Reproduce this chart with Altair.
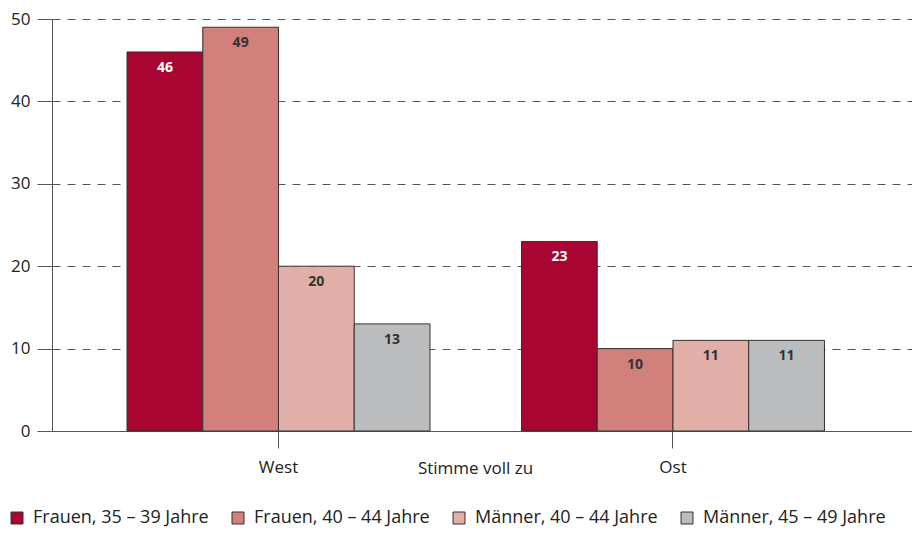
import altair as alt
import pandas as pd

groups = ["West", "Ost"]
series = ["Frauen, 35 – 39 Jahre", "Frauen, 40 – 44 Jahre", "Männer, 40 – 44 Jahre", "Männer, 45 – 49 Jahre"]
colors = ["#a90533", "#d1807b", "#e1aea8", "#bbbcbe"]
west = [46, 49, 20, 13]
ost = [23, 10, 11, 11]

rows = []
for g, vals in zip(groups, [west, ost]):
    for s, v in zip(series, vals):
        rows.append({"group": g, "series": s, "value": v})
df = pd.DataFrame(rows)

FONT = "Open Sans"

x = alt.X("group:N", sort=groups, title="Stimme voll zu",
          scale=alt.Scale(paddingInner=0.232, paddingOuter=0.206, align=0.4615),
          axis=alt.Axis(labelAngle=0, tickSize=17, tickColor="#555", domainColor="#555",
                        labelFontSize=17, labelColor="#222", labelPadding=11, labelFont=FONT,
                        titleFontSize=17, titleFontWeight="normal", titleColor="#222", titleFont=FONT,
                        titleX=423, titleY=42, titleBaseline="alphabetic", titleAlign="center"))
xo = alt.XOffset("series:N", sort=series, scale=alt.Scale(paddingInner=0, paddingOuter=0))
y = alt.Y("value:Q", title=None,
          scale=alt.Scale(domain=[0, 50], nice=False),
          axis=alt.Axis(values=[0, 10, 20, 30, 40, 50], tickSize=15, tickColor="#555",
                        domainColor="#555", gridColor="#555", gridDash=[8, 7], gridWidth=1,
                        labelFontSize=17, labelColor="#222", labelPadding=7, labelFont=FONT))

bars = alt.Chart(df).mark_bar(stroke="#333", strokeWidth=1).encode(
    x=x, xOffset=xo, y=y,
    color=alt.Color("series:N", sort=series,
                    scale=alt.Scale(domain=series, range=colors),
                    legend=alt.Legend(title=None, orient="none", direction="horizontal", columns=4,
                                      legendX=-44, legendY=490, symbolType="square", symbolSize=144,
                                      symbolStrokeColor="#333", symbolStrokeWidth=1, symbolOpacity=1,
                                      labelFontSize=18, labelColor="#222", labelFont=FONT,
                                      labelLimit=0, labelOffset=7, columnPadding=20)),
)

text = alt.Chart(df).mark_text(baseline="middle", dy=16, fontSize=14, fontWeight="bold", font=FONT).encode(
    x=x, xOffset=xo, y=y,
    text="value:Q",
    color=alt.when(alt.datum.series == series[0]).then(alt.value("white")).otherwise(alt.value("#333")),
)

chart = alt.layer(bars, text).properties(
    width=860, height=412,
    autosize=alt.AutoSizeParams(type="none"),
    padding={"left": 44, "top": 11, "right": 0, "bottom": 96},
).configure_view(stroke=None)

chart.save("out.html", embed_options={"renderer": "svg", "actions": False})
